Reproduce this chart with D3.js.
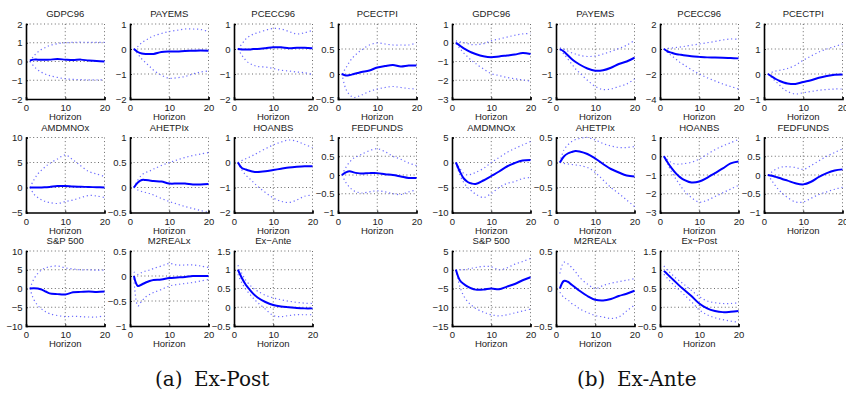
<!DOCTYPE html>
<html>
<head>
<meta charset="utf-8">
<script src="https://cdn.jsdelivr.net/npm/d3@7"></script>
<style>
  html, body { margin: 0; padding: 0; background: #fff; }
  svg { display: block; }
  .tick-label { font-family: "Liberation Sans", Arial, sans-serif; font-size: 9.5px; fill: #222; }
  .sub-title { font-family: "Liberation Sans", Arial, sans-serif; font-size: 9.5px; fill: #222; }
  .caption { font-family: "DejaVu Serif", serif; font-size: 20px; fill: #111; }
</style>
</head>
<body>
<svg id="chart" width="846" height="396"></svg>
<script>
// impulse responses, horizons 1..20 (sampled)
const HORIZON = [1, 2, 3, 4, 5, 6, 8, 10, 12, 14, 16, 18, 20];
const X_TICKS = [0, 10, 20];

// ---- (a) Ex-Post ----
const TITLES_POST = ['GDPC96', 'PAYEMS', 'PCECC96', 'PCECTPI', 'AMDMNOx', 'AHETPIx',
  'HOANBS', 'FEDFUNDS', 'S&P 500', 'M2REALx', 'Ex\u2212Ante'];
const YDOM_POST = [[-2, 2], [-2, 1], [-2, 1], [-0.5, 1], [-5, 10], [-0.5, 1],
  [-2, 1], [-1, 1], [-10, 10], [-1, 0.5], [-0.5, 1.5]];
const YTICKS_POST = [[-2, -1, 0, 1, 2], [-2, -1, 0, 1], [-2, -1, 0, 1], [-0.5, 0, 0.5, 1],
  [-5, 0, 5, 10], [-0.5, 0, 0.5, 1], [-2, -1, 0, 1], [-1, -0.5, 0, 0.5, 1],
  [-10, -5, 0, 5, 10], [-1, -0.5, 0, 0.5], [-0.5, 0, 0.5, 1, 1.5]];
const MED_POST = [
  [0.05, 0.1, 0.1, 0.1, 0.1, 0.1, 0.13, 0.1, 0.08, 0.1, 0.05, 0.03, 0.0],
  [0, -0.12, -0.18, -0.2, -0.2, -0.2, -0.12, -0.1, -0.1, -0.08, -0.07, -0.06, -0.07],
  [0, -0.02, -0.02, -0.02, 0, 0, 0.03, 0.07, 0.07, 0.03, 0.05, 0.05, 0.03],
  [0, -0.03, -0.02, 0, 0.02, 0.04, 0.07, 0.13, 0.16, 0.18, 0.15, 0.17, 0.17],
  [0, 0, 0, 0, 0.05, 0.1, 0.3, 0.3, 0.2, 0.15, 0.1, 0.05, 0],
  [0, 0.1, 0.15, 0.15, 0.14, 0.13, 0.12, 0.08, 0.08, 0.08, 0.06, 0.06, 0.07],
  [0, -0.22, -0.28, -0.33, -0.37, -0.38, -0.35, -0.3, -0.25, -0.2, -0.17, -0.15, -0.15],
  [0, 0.07, 0.1, 0.07, 0.05, 0.04, 0.05, 0.05, 0.02, 0, -0.04, -0.08, -0.08],
  [0, 0.1, 0, -0.3, -0.8, -1.3, -1.5, -1.6, -1.0, -0.9, -0.8, -0.9, -0.8],
  [0, -0.2, -0.17, -0.13, -0.1, -0.08, -0.07, -0.04, -0.03, -0.02, 0, 0, 0],
  [1.0, 0.78, 0.6, 0.47, 0.35, 0.26, 0.14, 0.06, 0.02, 0, -0.02, -0.03, -0.03]
];
const UP_POST = [
  [0.0, 0.3, 0.5, 0.65, 0.75, 0.85, 0.95, 1.0, 1.02, 1.03, 1.02, 1.02, 1.02],
  [0, 0.1, 0.25, 0.35, 0.45, 0.52, 0.62, 0.7, 0.75, 0.8, 0.8, 0.78, 0.7],
  [0, 0.2, 0.4, 0.52, 0.6, 0.65, 0.75, 0.82, 0.8, 0.7, 0.6, 0.65, 0.75],
  [0, 0.12, 0.25, 0.35, 0.42, 0.48, 0.58, 0.62, 0.6, 0.58, 0.58, 0.58, 0.62],
  [0, 1.5, 2.7, 3.5, 4.2, 4.8, 5.7, 6.5, 5.5, 4.3, 3.2, 2.7, 2.2],
  [0, 0.15, 0.25, 0.3, 0.33, 0.37, 0.44, 0.5, 0.55, 0.6, 0.64, 0.67, 0.7],
  [0, 0.08, 0.15, 0.22, 0.3, 0.38, 0.55, 0.7, 0.82, 0.9, 0.85, 0.72, 0.6],
  [0, 0.2, 0.35, 0.45, 0.5, 0.55, 0.65, 0.7, 0.62, 0.5, 0.42, 0.32, 0.25],
  [0, 2.5, 4.0, 5.0, 5.5, 5.8, 6.0, 5.5, 5.2, 5.0, 5.0, 4.9, 4.9],
  [0.08, 0.03, 0.07, 0.1, 0.12, 0.15, 0.2, 0.25, 0.22, 0.22, 0.22, 0.2, 0.17],
  [1.12, 0.9, 0.72, 0.6, 0.5, 0.43, 0.32, 0.25, 0.2, 0.16, 0.13, 0.11, 0.1]
];
const LO_POST = [
  [0.0, -0.25, -0.45, -0.58, -0.68, -0.75, -0.85, -0.92, -0.95, -0.97, -0.98, -0.98, -0.98],
  [0, -0.2, -0.4, -0.55, -0.7, -0.85, -1.05, -1.17, -1.15, -1.1, -1.0, -0.92, -0.88],
  [0, -0.25, -0.45, -0.58, -0.65, -0.7, -0.72, -0.78, -0.85, -0.88, -0.92, -0.95, -1.02],
  [0, -0.3, -0.42, -0.47, -0.45, -0.42, -0.35, -0.3, -0.27, -0.25, -0.27, -0.29, -0.3],
  [0, -1.3, -2.0, -2.5, -2.8, -3.0, -3.2, -2.8, -2.5, -2.0, -1.6, -1.7, -2.0],
  [0, -0.05, -0.08, -0.1, -0.12, -0.15, -0.22, -0.28, -0.33, -0.38, -0.42, -0.46, -0.5],
  [0, -0.3, -0.5, -0.65, -0.8, -0.95, -1.2, -1.42, -1.55, -1.6, -1.5, -1.35, -1.3],
  [0, -0.2, -0.33, -0.42, -0.46, -0.48, -0.45, -0.42, -0.45, -0.5, -0.52, -0.45, -0.4],
  [0, -3.0, -4.5, -5.5, -6.2, -6.7, -7.2, -7.5, -7.4, -7.5, -7.6, -7.6, -7.3],
  [-0.05, -0.6, -0.5, -0.42, -0.37, -0.33, -0.27, -0.2, -0.17, -0.15, -0.13, -0.1, -0.07],
  [0.88, 0.65, 0.48, 0.35, 0.23, 0.13, -0.05, -0.22, -0.25, -0.22, -0.2, -0.2, -0.2]
];

// ---- (b) Ex-Ante ----
const TITLES_ANTE = ['GDPC96', 'PAYEMS', 'PCECC96', 'PCECTPI', 'AMDMNOx', 'AHETPIx',
  'HOANBS', 'FEDFUNDS', 'S&P 500', 'M2REALx', 'Ex\u2212Post'];
const YDOM_ANTE = [[-3, 1], [-2, 1], [-4, 2], [-1, 2], [-10, 5], [-1, 0.5],
  [-3, 1], [-1, 1], [-15, 5], [-0.5, 0.5], [-0.5, 1.5]];
const YTICKS_ANTE = [[-3, -2, -1, 0, 1], [-2, -1, 0, 1], [-4, -2, 0, 2], [-1, 0, 1, 2],
  [-10, -5, 0, 5], [-1, -0.5, 0, 0.5], [-3, -2, -1, 0, 1], [-1, -0.5, 0, 0.5, 1],
  [-15, -10, -5, 0, 5], [-0.5, 0, 0.5], [-0.5, 0, 0.5, 1, 1.5]];
const MED_ANTE = [
  [0, -0.15, -0.3, -0.42, -0.52, -0.6, -0.72, -0.77, -0.73, -0.68, -0.63, -0.55, -0.6],
  [0, -0.1, -0.25, -0.4, -0.52, -0.62, -0.78, -0.87, -0.85, -0.75, -0.6, -0.5, -0.35],
  [0, -0.2, -0.3, -0.4, -0.45, -0.5, -0.58, -0.63, -0.67, -0.68, -0.7, -0.72, -0.75],
  [0, -0.1, -0.2, -0.28, -0.34, -0.38, -0.4, -0.32, -0.25, -0.15, -0.08, -0.03, -0.02],
  [0, -1.8, -3.2, -3.9, -4.2, -4.3, -3.6, -2.7, -1.8, -0.8, -0.1, 0.4, 0.5],
  [0, 0.12, 0.18, 0.21, 0.23, 0.22, 0.17, 0.08, -0.03, -0.13, -0.2, -0.26, -0.28],
  [0, -0.35, -0.65, -0.9, -1.1, -1.25, -1.4, -1.35, -1.15, -0.9, -0.65, -0.38, -0.28],
  [0, -0.02, -0.05, -0.08, -0.12, -0.15, -0.22, -0.25, -0.18, -0.05, 0.05, 0.12, 0.15],
  [0, -2.8, -3.8, -4.5, -5.0, -5.3, -5.3, -5.0, -5.2, -4.5, -3.8, -2.8, -2.0],
  [0, 0.1, 0.09, 0.05, 0.01, -0.03, -0.1, -0.15, -0.16, -0.14, -0.1, -0.07, -0.03],
  [0.97, 0.87, 0.77, 0.67, 0.57, 0.48, 0.3, 0.1, -0.03, -0.1, -0.13, -0.12, -0.1]
];
const UP_ANTE = [
  [0.1, 0.05, 0, -0.05, -0.1, -0.1, -0.05, 0.1, 0.2, 0.3, 0.4, 0.47, 0.5],
  [0.05, 0, -0.08, -0.15, -0.2, -0.25, -0.3, -0.28, -0.2, -0.1, 0.02, 0.15, 0.35],
  [0, 0.05, 0.08, 0.12, 0.15, 0.2, 0.3, 0.4, 0.5, 0.6, 0.72, 0.8, 0.78],
  [0, 0.07, 0.12, 0.15, 0.18, 0.22, 0.35, 0.55, 0.72, 0.88, 1.0, 1.1, 1.2],
  [0, -1.2, -2.2, -2.5, -2.3, -2.0, -1.2, 0, 1.0, 2.0, 2.8, 3.5, 4.2],
  [0, 0.25, 0.35, 0.42, 0.46, 0.48, 0.5, 0.45, 0.38, 0.33, 0.3, 0.3, 0.32],
  [0, -0.2, -0.35, -0.42, -0.42, -0.4, -0.32, -0.15, 0.1, 0.35, 0.55, 0.72, 0.9],
  [0, 0.08, 0.15, 0.2, 0.22, 0.22, 0.2, 0.15, 0.25, 0.38, 0.5, 0.6, 0.7],
  [0, 0, 0, 0.2, 0.4, 0.6, 0.9, 0.8, 0, 0.5, 1.5, 2.2, 3.0],
  [0.2, 0.35, 0.33, 0.28, 0.22, 0.15, 0.06, 0.0, 0.04, 0.07, 0.09, 0.11, 0.13],
  [1.1, 0.98, 0.88, 0.78, 0.7, 0.62, 0.45, 0.28, 0.17, 0.12, 0.1, 0.1, 0.12]
];
const LO_ANTE = [
  [-0.05, -0.3, -0.55, -0.75, -0.95, -1.1, -1.4, -1.65, -1.75, -1.85, -1.92, -1.98, -2.05],
  [-0.05, -0.2, -0.4, -0.6, -0.8, -0.95, -1.25, -1.5, -1.62, -1.6, -1.5, -1.4, -1.2],
  [0, -0.3, -0.55, -0.8, -1.05, -1.25, -1.65, -2.0, -2.3, -2.55, -2.8, -3.0, -3.2],
  [0, -0.15, -0.3, -0.45, -0.6, -0.7, -0.8, -0.75, -0.7, -0.65, -0.62, -0.6, -0.6],
  [0, -2.5, -4.0, -5.0, -5.7, -6.3, -7.0, -6.2, -5.0, -4.2, -3.8, -3.2, -3.0],
  [0, -0.02, -0.03, -0.04, -0.05, -0.06, -0.1, -0.2, -0.35, -0.5, -0.62, -0.75, -0.88],
  [0, -0.45, -0.85, -1.2, -1.5, -1.8, -2.2, -2.45, -2.35, -2.15, -1.95, -1.75, -1.55],
  [0, -0.15, -0.3, -0.42, -0.52, -0.6, -0.72, -0.72, -0.62, -0.52, -0.45, -0.38, -0.33],
  [0, -4.5, -7.0, -8.5, -9.5, -10.3, -11.3, -12.0, -12.3, -12.0, -11.5, -11.0, -10.5],
  [-0.05, -0.12, -0.15, -0.2, -0.23, -0.27, -0.32, -0.36, -0.38, -0.4, -0.38, -0.3, -0.22],
  [0.88, 0.76, 0.65, 0.55, 0.45, 0.35, 0.15, -0.07, -0.2, -0.28, -0.33, -0.37, -0.4]
];

const svg = d3.select('#chart');

// layout
const axW = 78.5, axH = 75;
const colStep = 104;
const rowTops = [24, 137.5, 251];
const fmt = v => String(v).replace('-', '\u2212');

function drawPanel(x0, titles, ydoms, yticks, med, up, lo) {
  titles.forEach((title, i) => {
    const col = i % 4, row = Math.floor(i / 4);
    const left = x0 + col * colStep, top = rowTops[row];
    const g = svg.append('g').attr('transform', `translate(${left},${top})`);

    const x = d3.scaleLinear().domain([0, 20]).range([0, axW]);
    const y = d3.scaleLinear().domain(ydoms[i]).range([axH, 0]);

    // dotted grid (includes top & right edges)
    g.selectAll('.gx').data(X_TICKS.filter(t => t > 0)).join('line')
      .attr('x1', d => x(d)).attr('x2', d => x(d))
      .attr('y1', 0).attr('y2', axH)
      .attr('stroke', '#444').attr('stroke-width', 0.8).attr('stroke-dasharray', '1,2.6');
    g.selectAll('.gy').data(yticks[i].filter(t => t > ydoms[i][0])).join('line')
      .attr('x1', 0).attr('x2', axW)
      .attr('y1', d => y(d)).attr('y2', d => y(d))
      .attr('stroke', '#444').attr('stroke-width', 0.8).attr('stroke-dasharray', '1,2.6');

    // bands + median
    const line = d3.line().x((d, k) => x(HORIZON[k])).y(d => y(d)).curve(d3.curveCatmullRom);
    [up[i], lo[i]].forEach(s => {
      g.append('path').attr('d', line(s))
        .attr('fill', 'none').attr('stroke', '#6b6bff').attr('stroke-width', 1.2)
        .attr('stroke-dasharray', '1.2,2.8');
    });
    g.append('path').attr('d', line(med[i]))
      .attr('fill', 'none').attr('stroke', '#0000ff').attr('stroke-width', 2)
      .attr('stroke-linejoin', 'round');

    // axes: solid left & bottom
    const xAxis = d3.axisBottom(x).tickValues(X_TICKS).tickSize(-2).tickFormat(fmt);
    const yAxis = d3.axisLeft(y).tickValues(yticks[i]).tickSize(-2).tickFormat(fmt);
    const gx = g.append('g').attr('transform', `translate(0,${axH})`).call(xAxis);
    const gy = g.append('g').call(yAxis);
    [gx, gy].forEach(a => {
      a.select('.domain').attr('stroke', '#000').attr('stroke-width', 1.6);
      a.selectAll('.tick line').attr('stroke', '#000').attr('stroke-width', 0.8);
      a.selectAll('.tick text').attr('class', 'tick-label').attr('fill', null);
      a.attr('font-family', null).attr('font-size', null);
    });
    gx.selectAll('.tick text').attr('dy', null).attr('y', 12);
    gy.selectAll('.tick text').attr('x', -3.5);

    g.append('text').attr('class', 'sub-title')
      .attr('x', axW / 2).attr('y', -7).attr('text-anchor', 'middle').text(title);
    g.append('text').attr('class', 'sub-title')
      .attr('x', axW / 2).attr('y', axH + 21).attr('text-anchor', 'middle').text('Horizon');
  });
}

drawPanel(26, TITLES_POST, YDOM_POST, YTICKS_POST, MED_POST, UP_POST, LO_POST);
drawPanel(452, TITLES_ANTE, YDOM_ANTE, YTICKS_ANTE, MED_ANTE, UP_ANTE, LO_ANTE);

// sub-captions
svg.append('text').attr('class', 'caption').attr('x', 155).attr('y', 386).text('(a)');
svg.append('text').attr('class', 'caption').attr('x', 194).attr('y', 386).text('Ex-Post');
svg.append('text').attr('class', 'caption').attr('x', 577).attr('y', 386).text('(b)');
svg.append('text').attr('class', 'caption').attr('x', 617).attr('y', 386).text('Ex-Ante');
</script>
</body>
</html>
